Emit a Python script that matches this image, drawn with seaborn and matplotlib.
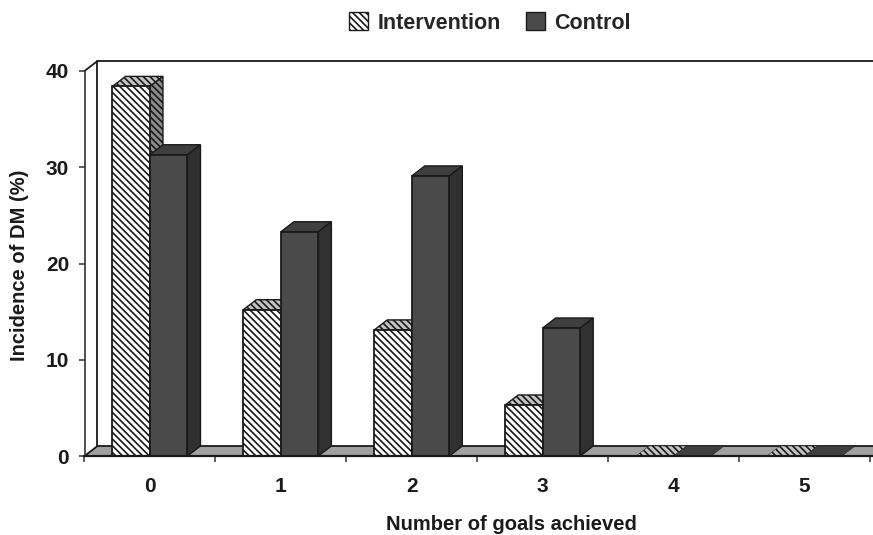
import matplotlib
matplotlib.use("Agg")
import matplotlib.pyplot as plt
from matplotlib.patches import Polygon, Patch
import pandas as pd
import seaborn as sns

goals = ["0", "1", "2", "3", "4", "5"]
intervention = [38.4, 15.2, 13.1, 5.3, 0, 0]
control = [31.3, 23.3, 29.1, 13.3, 0, 0]
series_names = ["Intervention", "Control"]
y_ticks = [0, 10, 20, 30, 40]

df = pd.DataFrame({
    "goals": goals * 2,
    "value": intervention + control,
    "series": [series_names[0]] * 6 + [series_names[1]] * 6,
})

sns.set_theme(style="white")
plt.rcParams["font.family"] = ["Liberation Sans", "DejaVu Sans"]
plt.rcParams["hatch.linewidth"] = 1.2
plt.rcParams["hatch.color"] = "#333333"

W, H = 873, 535
fig = plt.figure(figsize=(W / 100, H / 100), dpi=100)
ax = fig.add_axes([84.5 / W, 1 - 456 / H, (870 - 84.5) / W, 385 / H])

DARK = "#4a4a4a"
EDGE = "#1a1a1a"
HATCH = "\\\\\\\\\\"
sns.barplot(data=df, x="goals", y="value", hue="series", order=goals,
            hue_order=series_names, palette=["white", DARK], width=0.573,
            gap=0, saturation=1, edgecolor=EDGE, linewidth=1.3, legend=False,
            ax=ax, zorder=5)
ax.set_xlim(-0.5, 5.5)
ax.set_ylim(0, 40)
ax.set_xlabel("")
ax.set_ylabel("")

dx = 13 / (785.5 / 6)
dy = 10 / (385 / 40)

# back wall and floor
x0, x1 = -0.5, 5.5 + dx + 0.1
ax.add_patch(Polygon([(x0, 0), (x0 + dx, dy), (x1 + dx, dy), (x1, 0)], closed=True,
                     facecolor="#a0a0a0", edgecolor=EDGE, lw=1.3, clip_on=False, zorder=1))
ax.plot([x0 + dx, x0 + dx, x1], [dy, 40 + dy, 40 + dy], color=EDGE, lw=1.3, clip_on=False, zorder=1)
ax.plot([x0, x0 + dx], [40, 40 + dy], color=EDGE, lw=1.3, clip_on=False, zorder=1)

# 3-D faces of the bars
styles = [
    dict(top="#c4c4c4", side="#8c8c8c", hatch=HATCH, z=3),
    dict(top="#3e3e3e", side="#303030", hatch=None, z=6),
]
for container, st in zip(ax.containers, styles):
    for bar in container:
        xa, w, h = bar.get_x(), bar.get_width(), bar.get_height()
        xb = xa + w
        if st["hatch"]:
            bar.set_hatch(st["hatch"])
            bar.set_zorder(4)
        else:
            bar.set_zorder(7)
        ax.add_patch(Polygon([(xa, h), (xa + dx, h + dy), (xb + dx, h + dy), (xb, h)], closed=True,
                             facecolor=st["top"], edgecolor=EDGE, lw=1.0 if h else 0.3,
                             hatch=st["hatch"], clip_on=False, zorder=st["z"]))
        if h > 0:
            ax.add_patch(Polygon([(xb, 0), (xb + dx, dy), (xb + dx, h + dy), (xb, h)], closed=True,
                                 facecolor=st["side"], edgecolor=EDGE, lw=1.0,
                                 hatch=st["hatch"], clip_on=False, zorder=st["z"]))

for s in ["top", "right", "bottom"]:
    ax.spines[s].set_visible(False)
ax.plot([x0, x1], [0, 0], color=EDGE, lw=1.6, clip_on=False, zorder=8)
ax.spines["left"].set_color("#333333")
ax.spines["left"].set_linewidth(1.2)
ax.patch.set_alpha(0)

ax.set_yticks(y_ticks)
ax.set_xticks(range(len(goals)))
ax.set_xticklabels(goals)
ax.set_xticks([i - 0.5 for i in range(7)], minor=True)
ax.tick_params(axis="x", which="major", length=0, pad=15)
ax.tick_params(axis="x", which="minor", bottom=True, length=4.5, width=1.1, color="#333333")
ax.tick_params(axis="y", left=True, length=4.5, width=1.1, color="#333333", pad=6.5)
for t in ax.get_xticklabels() + ax.get_yticklabels():
    t.set_fontsize(15)
    t.set_fontweight("bold")
    t.set_color("#1a1a1a")

fig.text(511 / W, 1 - 524 / H, "Number of goals achieved", ha="center", va="center",
         fontsize=14.5, fontweight="bold", color="#1a1a1a")
fig.text(20 / W, 1 - 265 / H, "Incidence of DM (%)", ha="center", va="center",
         rotation=90, fontsize=14.5, fontweight="bold", color="#1a1a1a")

handles = [Patch(facecolor="white", edgecolor=EDGE, hatch=HATCH, label=series_names[0]),
           Patch(facecolor=DARK, edgecolor=EDGE, label=series_names[1])]
fig.legend(handles=handles, loc="center", bbox_to_anchor=(490 / W, 1 - 23 / H), ncol=2,
           frameon=False, handlelength=0.88, handleheight=0.88, handletextpad=0.42,
           columnspacing=1.2, prop=dict(weight="bold", size=15.5))

fig.savefig("out.png", dpi=100)
